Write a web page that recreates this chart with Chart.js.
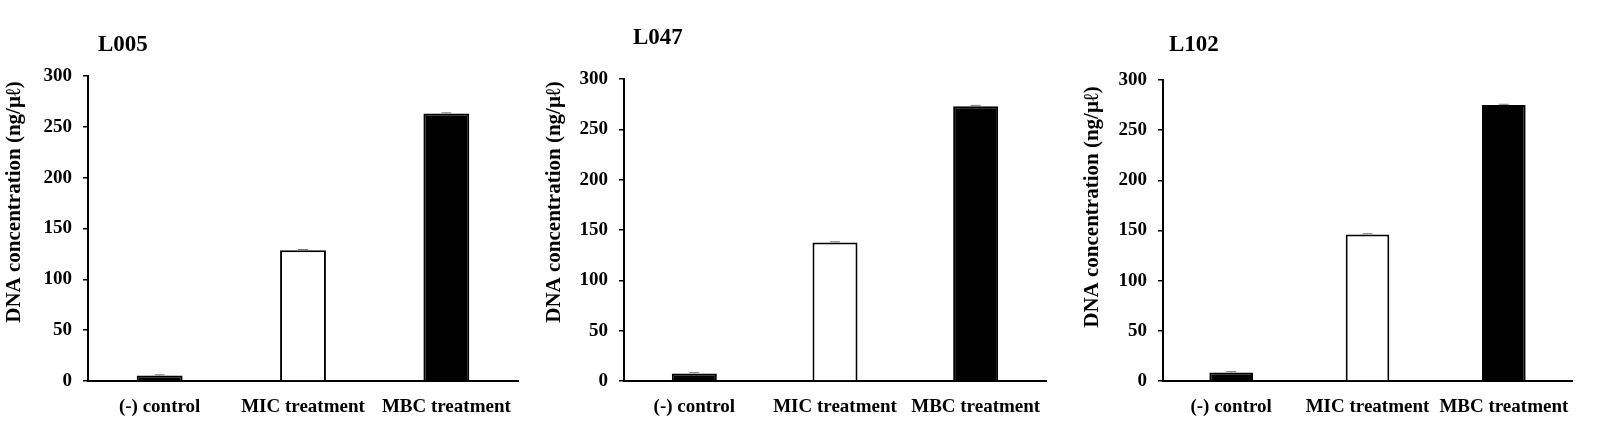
<!DOCTYPE html>
<html><head><meta charset="utf-8">
<script src="https://cdn.jsdelivr.net/npm/chart.js@4/dist/chart.umd.min.js"></script>
<style>
html,body{margin:0;padding:0;background:#fff;width:1606px;height:424px;overflow:hidden;}
canvas{position:absolute;top:0;}
</style></head><body>
<canvas id="c0" width="530" height="424" style="left:0px"></canvas>
<canvas id="c1" width="530" height="424" style="left:530px"></canvas>
<canvas id="c2" width="546" height="424" style="left:1060px"></canvas>
<script>
const categories = ['(-) control', 'MIC treatment', 'MBC treatment'];
const panelTitles = ['L005', 'L047', 'L102'];
const valuesL005 = [5.3, 128.5, 263];
const valuesL047 = [7.5, 137.5, 273];
const valuesL102 = [8.5, 146, 275];
const errorsL005 = [0.8, 0.8, 0.8];
const errorsL047 = [0.8, 0.8, 0.8];
const errorsL102 = [0.8, 0.8, 0.8];
const yMin = 0, yMax = 300, yStep = 50;
const yTitle = 'DNA concentration (ng/μℓ)';
const barFill = ['#000000', '#ffffff', '#000000'];

const FONT = '"Liberation Serif", "Times New Roman", serif';

const panels = [
  {id:'c0', left:0, width:530, area:{l:88, r:518, t:76, b:381}, titleX:98, titleY:45, yTitleX:15, yTitleY:202, values:valuesL005, errors:errorsL005, title:panelTitles[0]},
  {id:'c1', left:530, width:530, area:{l:624, r:1046, t:79, b:381}, titleX:633, titleY:38.5, yTitleX:555, yTitleY:202, values:valuesL047, errors:errorsL047, title:panelTitles[1]},
  {id:'c2', left:1060, width:546, area:{l:1163, r:1572, t:80, b:381}, titleX:1169, titleY:45, yTitleX:1093, yTitleY:207, values:valuesL102, errors:errorsL102, title:panelTitles[2]}
];

const extrasPlugin = {
  id: 'extras',
  afterDatasetsDraw(chart, args, opts) {
    const p = opts.panel;
    const ctx = chart.ctx;
    const meta = chart.getDatasetMeta(0);
    const ys = chart.scales.y;
    ctx.save();
    ctx.strokeStyle = '#777';
    ctx.lineWidth = 1;
    meta.data.forEach((bar, i) => {
      const v = p.values[i], e = p.errors[i];
      const yTop = ys.getPixelForValue(v + e);
      const yBar = ys.getPixelForValue(v);
      ctx.beginPath();
      ctx.moveTo(bar.x, yBar); ctx.lineTo(bar.x, yTop);
      ctx.moveTo(bar.x - 5, yTop); ctx.lineTo(bar.x + 5, yTop);
      ctx.stroke();
    });
    ctx.restore();
  },
  afterDraw(chart, args, opts) {
    const p = opts.panel;
    const ctx = chart.ctx;
    ctx.save();
    ctx.fillStyle = '#000';
    ctx.font = 'bold 23px ' + FONT;
    ctx.textAlign = 'left';
    ctx.textBaseline = 'middle';
    ctx.fillText(p.title, p.titleX - p.left, p.titleY);
    ctx.translate(p.yTitleX - p.left, p.yTitleY);
    ctx.rotate(-Math.PI / 2);
    ctx.textAlign = 'center';
    ctx.font = 'bold 21px ' + FONT;
    ctx.fillText(yTitle, 0, 0);
    ctx.restore();
  }
};

panels.forEach(p => {
  new Chart(document.getElementById(p.id), {
    type: 'bar',
    data: {
      labels: categories,
      datasets: [{
        data: p.values,
        backgroundColor: barFill,
        borderColor: '#000',
        borderWidth: 2,
        categoryPercentage: 1,
        barPercentage: 0.32
      }]
    },
    options: {
      responsive: false,
      animation: false,
      devicePixelRatio: 1,
      layout: {padding: {left: 0, right: p.left + p.width - p.area.r, top: p.area.t, bottom: 0}},
      plugins: {legend: {display: false}, tooltip: {enabled: false}, title: {display: false}, extras: {panel: p}},
      scales: {
        x: {
          grid: {display: false},
          border: {display: true, color: '#000', width: 2},
          ticks: {color: '#000', font: {family: FONT, size: 19, weight: 'bold'}, padding: 7, maxRotation: 0, autoSkip: false},
          afterFit(s) { s.height = 424 - p.area.b; s.paddingLeft = 0; s.paddingRight = 0; }
        },
        y: {
          min: yMin, max: yMax,
          grid: {drawOnChartArea: false, drawTicks: true, tickLength: 5, color: '#000', lineWidth: 1.5},
          border: {display: true, color: '#000', width: 2},
          ticks: {stepSize: yStep, color: '#000', font: {family: FONT, size: 19, weight: 'bold'}, padding: 11},
          afterFit(s) { s.width = p.area.l - p.left; s.paddingTop = 0; s.paddingBottom = 0; }
        }
      }
    },
    plugins: [extrasPlugin]
  });
});
</script>
</body></html>
